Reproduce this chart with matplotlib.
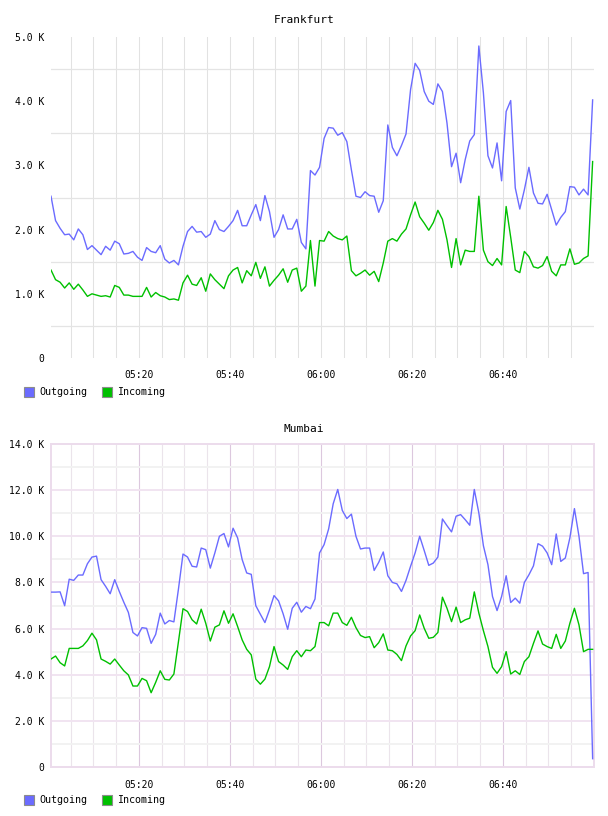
import numpy as np
import matplotlib.pyplot as plt
from matplotlib.patches import Rectangle

# one sample per minute, minutes after 05:00
minutes = np.arange(120) + 0.7
time_ticks = [20, 40, 60, 80, 100]
time_labels = ['05:20', '05:40', '06:00', '06:20', '06:40']

# values in K
frankfurt_out = [
    2.52, 2.14, 2.02, 1.92, 1.93, 1.84, 2.01, 1.92, 1.69, 1.75,
    1.68, 1.61, 1.74, 1.68, 1.82, 1.78, 1.62, 1.63, 1.66, 1.57,
    1.52, 1.72, 1.66, 1.64, 1.75, 1.54, 1.48, 1.52, 1.45, 1.74,
    1.97, 2.05, 1.96, 1.97, 1.88, 1.93, 2.14, 2.00, 1.97, 2.05,
    2.14, 2.30, 2.06, 2.06, 2.23, 2.39, 2.14, 2.53, 2.28, 1.88,
    2.00, 2.23, 2.01, 2.01, 2.16, 1.80, 1.70, 2.92, 2.85, 2.97,
    3.42, 3.59, 3.58, 3.47, 3.51, 3.37, 2.93, 2.52, 2.50, 2.59,
    2.53, 2.52, 2.27, 2.45, 3.63, 3.28, 3.15, 3.31, 3.49, 4.18,
    4.59, 4.48, 4.15, 4.00, 3.95, 4.27, 4.15, 3.66, 2.98, 3.19,
    2.73, 3.09, 3.38, 3.48, 4.86, 4.13, 3.15, 2.96, 3.35, 2.76,
    3.84, 4.01, 2.65, 2.32, 2.62, 2.97, 2.57, 2.41, 2.40, 2.55,
    2.31, 2.07, 2.19, 2.28, 2.67, 2.66, 2.54, 2.63, 2.54, 4.02,
]
frankfurt_in = [
    1.37, 1.22, 1.18, 1.09, 1.17, 1.07, 1.15, 1.06, 0.96, 1.00,
    0.98, 0.96, 0.97, 0.95, 1.13, 1.10, 0.98, 0.98, 0.96, 0.96,
    0.96, 1.10, 0.95, 1.02, 0.97, 0.95, 0.91, 0.92, 0.90, 1.17,
    1.29, 1.15, 1.13, 1.25, 1.04, 1.31, 1.22, 1.15, 1.08, 1.28,
    1.37, 1.41, 1.17, 1.36, 1.28, 1.49, 1.24, 1.42, 1.12, 1.21,
    1.29, 1.39, 1.18, 1.37, 1.40, 1.04, 1.12, 1.83, 1.12, 1.83,
    1.82, 1.97, 1.90, 1.86, 1.84, 1.90, 1.36, 1.28, 1.32, 1.37,
    1.29, 1.35, 1.19, 1.48, 1.82, 1.86, 1.82, 1.93, 2.01, 2.23,
    2.43, 2.20, 2.10, 1.99, 2.11, 2.30, 2.16, 1.84, 1.41, 1.86,
    1.45, 1.68, 1.66, 1.66, 2.52, 1.68, 1.50, 1.44, 1.55, 1.45,
    2.36, 1.88, 1.37, 1.33, 1.66, 1.58, 1.42, 1.40, 1.44, 1.58,
    1.35, 1.28, 1.45, 1.45, 1.70, 1.46, 1.48, 1.55, 1.59, 3.06,
]
mumbai_out = [
    7.58, 7.58, 7.59, 6.99, 8.14, 8.09, 8.32, 8.32, 8.81, 9.10,
    9.14, 8.12, 7.83, 7.51, 8.12, 7.61, 7.14, 6.70, 5.83, 5.68,
    6.04, 6.01, 5.36, 5.75, 6.67, 6.20, 6.35, 6.29, 7.71, 9.23,
    9.10, 8.70, 8.67, 9.49, 9.42, 8.62, 9.28, 10.00, 10.12, 9.54,
    10.35, 9.93, 8.99, 8.41, 8.35, 6.99, 6.62, 6.26, 6.81, 7.43,
    7.20, 6.64, 5.97, 6.88, 7.14, 6.71, 6.96, 6.86, 7.28, 9.28,
    9.64, 10.32, 11.41, 12.03, 11.12, 10.77, 10.96, 10.00, 9.45, 9.49,
    9.49, 8.52, 8.87, 9.32, 8.29, 8.00, 7.94, 7.61, 8.09, 8.70,
    9.28, 10.00, 9.38, 8.74, 8.84, 9.10, 10.75, 10.46, 10.19, 10.87,
    10.94, 10.72, 10.48, 12.03, 11.01, 9.59, 8.77, 7.39, 6.78, 7.39,
    8.29, 7.13, 7.32, 7.10, 8.00, 8.33, 8.72, 9.68, 9.57, 9.28,
    8.77, 10.10, 8.91, 9.06, 9.93, 11.20, 10.00, 8.38, 8.43, 0.36,
]
mumbai_in = [
    4.68, 4.81, 4.52, 4.38, 5.14, 5.14, 5.14, 5.25, 5.48, 5.80,
    5.51, 4.68, 4.58, 4.46, 4.68, 4.42, 4.17, 3.99, 3.51, 3.51,
    3.84, 3.74, 3.22, 3.67, 4.17, 3.80, 3.77, 4.03, 5.43, 6.86,
    6.74, 6.38, 6.20, 6.84, 6.23, 5.46, 6.06, 6.16, 6.77, 6.23,
    6.64, 6.09, 5.51, 5.10, 4.86, 3.81, 3.59, 3.81, 4.35, 5.22,
    4.57, 4.42, 4.23, 4.78, 5.04, 4.78, 5.07, 5.04, 5.22, 6.26,
    6.26, 6.12, 6.67, 6.67, 6.26, 6.14, 6.49, 6.04, 5.70, 5.61,
    5.65, 5.17, 5.39, 5.77, 5.07, 5.04, 4.88, 4.61, 5.25, 5.68,
    5.91, 6.59, 6.01, 5.58, 5.62, 5.83, 7.36, 6.88, 6.30, 6.93,
    6.26, 6.38, 6.45, 7.59, 6.67, 5.91, 5.22, 4.32, 4.06, 4.35,
    5.00, 4.03, 4.17, 4.01, 4.57, 4.78, 5.36, 5.90, 5.33, 5.22,
    5.14, 5.75, 5.14, 5.46, 6.23, 6.88, 6.16, 5.00, 5.10, 5.10,
]

W, H = 608, 816
BLUE = '#6b6bff'
GREEN = '#00c000'
MONO = 'DejaVu Sans Mono'


def k_label(v):
    return '0' if v == 0 else f'{v:.1f} K'


def setup_axes(ax, ymax, ystep, lilac):
    ax.set_xlim(minutes[0], 120)
    ax.set_ylim(0, ymax)
    ax.set_xticks(time_ticks)
    ax.set_xticklabels(time_labels)
    yt = np.arange(0, ymax + ystep / 2, ystep)
    ax.set_yticks(yt)
    ax.set_yticklabels([k_label(v) for v in yt])
    ax.tick_params(length=0, labelsize=7, pad=5)
    for lab in ax.get_xticklabels() + ax.get_yticklabels():
        lab.set_family(MONO)
    ax.tick_params(axis='x', pad=9)

    if not lilac:
        # plain grey grid, horizontal lines half way between labels
        for t in range(5, 120, 5):
            ax.axvline(t, color='#e2e2e2', lw=0.75, zorder=0)
        for v in np.arange(0.5, ymax, 1.0):
            ax.axhline(v, color='#e4e4e4', lw=0.9, zorder=0)
        for s in ax.spines.values():
            s.set_visible(False)
    else:
        for t in range(5, 120, 5):
            c = '#dcc8de' if t % 20 == 0 else '#ebe4eb'
            ax.axvline(t, color=c, lw=0.8, zorder=0)
        for v in range(1, int(ymax)):
            c = '#f1e4f1' if v % 2 == 0 else '#f2f2f2'
            ax.axhline(v, color=c, lw=1.4, zorder=0)
        for s in ax.spines.values():
            s.set_color('#ecdcec')
            s.set_linewidth(1.4)


def draw_legend(fig, y):
    for x, color, label in [(24, BLUE, 'Outgoing'), (102, GREEN, 'Incoming')]:
        fig.patches.append(Rectangle((x / W, 1 - (y + 5) / H), 10 / W, 10 / H,
                                     transform=fig.transFigure, facecolor=color,
                                     edgecolor='#8c8c8c', lw=0.8))
        fig.text((x + 15) / W, 1 - y / H, label, va='center', ha='left',
                 family=MONO, fontsize=7.2)


def plot_panel(fig, rect, title, title_y, out, inc, ymax, ystep, lilac, legend_y):
    ax = fig.add_axes(rect)
    setup_axes(ax, ymax, ystep, lilac)
    ax.plot(minutes, out, color=BLUE, lw=1.0, zorder=3)
    ax.plot(minutes, inc, color=GREEN, lw=1.0, zorder=4)
    fig.text(0.5, 1 - title_y / H, title, ha='center', va='center',
             family=MONO, fontsize=8)
    draw_legend(fig, legend_y)
    return ax


fig = plt.figure(figsize=(W / 100, H / 100), dpi=100)

plot_panel(fig, [51 / W, 1 - 358 / H, 543 / W, 321 / H], 'Frankfurt', 20,
           frankfurt_out, frankfurt_in, 5.0, 1.0, False, 392)
plot_panel(fig, [51 / W, 1 - 767 / H, 543 / W, 323 / H], 'Mumbai', 429,
           mumbai_out, mumbai_in, 14.0, 2.0, True, 800)

fig.savefig('out.png', dpi=100)
